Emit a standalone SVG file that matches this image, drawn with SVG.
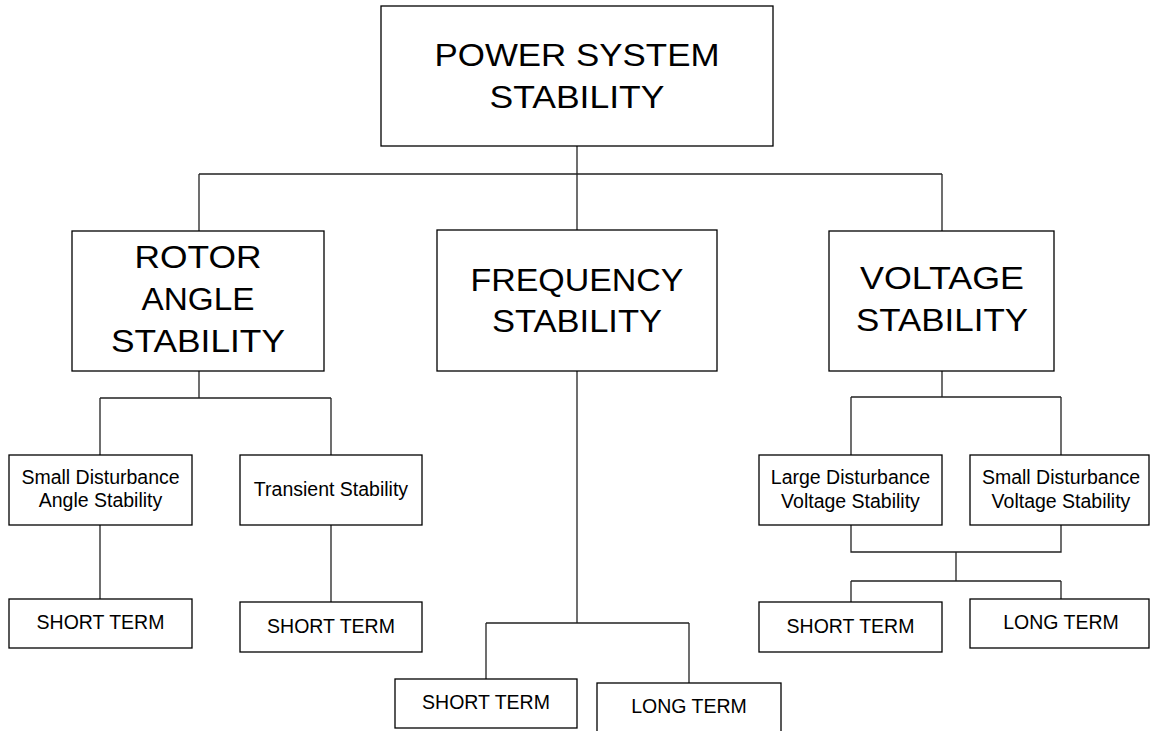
<svg xmlns="http://www.w3.org/2000/svg" width="1150" height="731" viewBox="0 0 1150 731">
<style>
.box{fill:#fff;stroke:#000;stroke-width:1.3}
.con{fill:none;stroke:#222;stroke-width:1.3}
.big{font-family:"Liberation Sans",Arial,sans-serif;font-size:31.5px;text-anchor:middle;fill:#000}
.sm{font-family:"Liberation Sans",Arial,sans-serif;font-size:19.5px;text-anchor:middle;fill:#000}
</style>
<rect width="1150" height="731" fill="#fff"/>
<g id="connectors">
<path class="con" d="M577 146V230M199 174H942M199 174V231M942 174V231"/>
<path class="con" d="M199 371V398M100 398H331M100 398V455M331 398V455M100 525V599M331 525V602"/>
<path class="con" d="M577 371V623M486 623H689M486 623V679M689 623V683"/>
<path class="con" d="M942 371V397M851 397H1061M851 397V455M1061 397V455M851 525V552H1061V525M956 552V581M851 581H1061M851 581V602M1061 581V599"/>
</g>
<g id="power">
<rect class="box" x="381" y="6" width="392" height="140"/>
<text class="big" x="577" y="66" textLength="285" lengthAdjust="spacingAndGlyphs">POWER SYSTEM</text>
<text class="big" x="577" y="108" textLength="175" lengthAdjust="spacingAndGlyphs">STABILITY</text>
</g>
<g id="rotor">
<rect class="box" x="72" y="231" width="252" height="140"/>
<text class="big" x="198" y="268" textLength="127" lengthAdjust="spacingAndGlyphs">ROTOR</text>
<text class="big" x="198" y="310" textLength="113" lengthAdjust="spacingAndGlyphs">ANGLE</text>
<text class="big" x="198" y="352" textLength="174" lengthAdjust="spacingAndGlyphs">STABILITY</text>
</g>
<g id="frequency">
<rect class="box" x="437" y="230" width="280" height="141"/>
<text class="big" x="577" y="291" textLength="213" lengthAdjust="spacingAndGlyphs">FREQUENCY</text>
<text class="big" x="577" y="332" textLength="170" lengthAdjust="spacingAndGlyphs">STABILITY</text>
</g>
<g id="voltage">
<rect class="box" x="829" y="231" width="225" height="140"/>
<text class="big" x="942" y="289" textLength="164" lengthAdjust="spacingAndGlyphs">VOLTAGE</text>
<text class="big" x="942" y="331" textLength="172" lengthAdjust="spacingAndGlyphs">STABILITY</text>
</g>
<g id="small-angle">
<rect class="box" x="9" y="455" width="183" height="70"/>
<text class="sm" x="100.5" y="484">Small Disturbance</text>
<text class="sm" x="100.5" y="507">Angle Stability</text>
</g>
<g id="transient">
<rect class="box" x="240" y="455" width="182" height="70"/>
<text class="sm" x="331" y="496">Transient Stability</text>
</g>
<g id="large-voltage">
<rect class="box" x="759" y="455" width="183" height="70"/>
<text class="sm" x="850.5" y="484">Large Disturbance</text>
<text class="sm" x="850.5" y="508">Voltage Stability</text>
</g>
<g id="small-voltage">
<rect class="box" x="970" y="455" width="179" height="70"/>
<text class="sm" x="1061" y="484">Small Disturbance</text>
<text class="sm" x="1061" y="508">Voltage Stability</text>
</g>
<g id="rotor-short">
<rect class="box" x="9" y="599" width="183" height="49"/>
<text class="sm" x="100.5" y="629">SHORT TERM</text>
</g>
<g id="transient-short">
<rect class="box" x="240" y="602" width="182" height="50"/>
<text class="sm" x="331" y="633">SHORT TERM</text>
</g>
<g id="freq-short">
<rect class="box" x="395" y="679" width="182" height="49"/>
<text class="sm" x="486" y="709">SHORT TERM</text>
</g>
<g id="freq-long">
<rect class="box" x="597" y="683" width="184" height="60"/>
<text class="sm" x="689" y="713">LONG TERM</text>
</g>
<g id="volt-short">
<rect class="box" x="759" y="602" width="183" height="50"/>
<text class="sm" x="850.5" y="633">SHORT TERM</text>
</g>
<g id="volt-long">
<rect class="box" x="970" y="599" width="179" height="49"/>
<text class="sm" x="1061" y="629">LONG TERM</text>
</g>
</svg>
